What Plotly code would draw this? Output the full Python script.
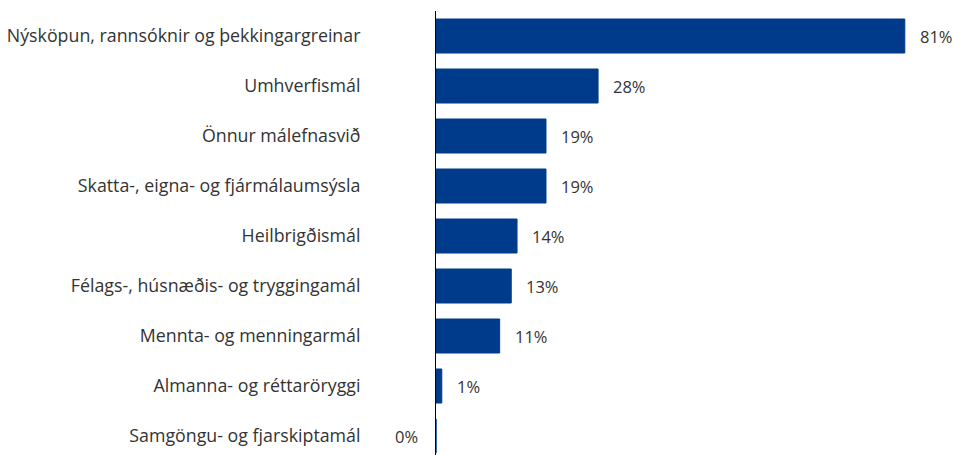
import plotly.graph_objects as go

categories = [
    "Nýsköpun, rannsóknir og þekkingargreinar",
    "Umhverfismál",
    "Önnur málefnasvið",
    "Skatta-, eigna- og fjármálaumsýsla",
    "Heilbrigðismál",
    "Félags-, húsnæðis- og tryggingamál",
    "Mennta- og menningarmál",
    "Almanna- og réttaröryggi",
    "Samgöngu- og fjarskiptamál",
]
values = [81, 28, 19, 19, 14, 13, 11, 1, 0]
labels = [f"{v}%" for v in values]

BAR = "#003a8a"
TXT = "#333333"
FONT = "Open Sans"

fig = go.Figure(go.Bar(
    y=categories, x=values, orientation="h",
    marker=dict(color=BAR, line=dict(color=BAR, width=1)),
    width=0.68, hoverinfo="skip", cliponaxis=False,
))

for c, v, t in zip(categories, values, labels):
    if v > 0:
        fig.add_annotation(x=v, y=c, text=t, showarrow=False, xanchor="left",
                           xshift=13, font=dict(family=FONT, size=16.5, color=TXT))
    else:
        fig.add_annotation(x=v, y=c, text=t, showarrow=False, xanchor="right",
                           xshift=-16, font=dict(family=FONT, size=16.5, color=TXT))

fig.update_layout(
    width=954, height=455,
    margin=dict(l=436, r=0, t=11, b=0),
    paper_bgcolor="white", plot_bgcolor="white",
    showlegend=False,
    font=dict(family=FONT, size=16, color=TXT),
    xaxis=dict(range=[0, 89.5], showgrid=False, zeroline=False, showticklabels=False,
               showline=False, fixedrange=True),
    yaxis=dict(range=[8.38, -0.5], showgrid=False, zeroline=False, fixedrange=True,
               showline=True, linecolor="black", linewidth=1,
               ticks="", ticklabelstandoff=71,
               tickfont=dict(family=FONT, size=17.8, color=TXT)),
)

fig.write_html("out.html",
               config={"displayModeBar": False, "staticPlot": True},
               post_script="document.body.style.margin='0';document.body.style.overflow='hidden';")
